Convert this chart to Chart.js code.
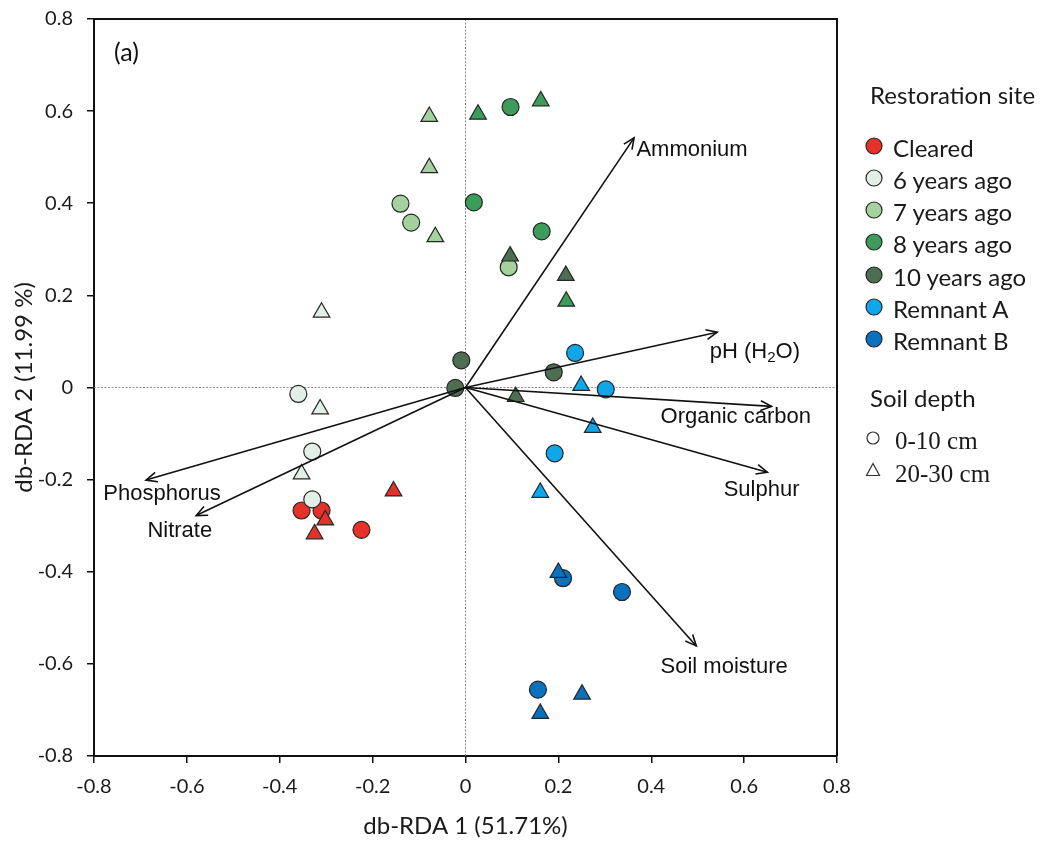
<!DOCTYPE html>
<html>
<head>
<meta charset="utf-8">
<script src="https://cdn.jsdelivr.net/npm/chart.js@4.4.1/dist/chart.umd.min.js"></script>
<style>
  html, body { margin: 0; padding: 0; background: #fff; }
  #wrap { position: relative; width: 1046px; height: 841px; overflow: hidden; }
  #chart { position: absolute; left: 0; top: 0; }
  .lg { position: absolute; white-space: nowrap; color: #1a1a1a; transform: translateY(-50%); line-height: 1; }
  .sans { font-family: Lato, "Open Sans", sans-serif; font-size: 24px; }
  .serif { font-family: "Liberation Serif", "DejaVu Serif", serif; font-size: 25px; }
  .mk { position: absolute; transform: translate(-50%, -50%); }
</style>
</head>
<body>
<div id="wrap">
  <canvas id="chart" width="1046" height="841"></canvas>
  <div id="legend"></div>
</div>
<script>
// ---------------- data ----------------
const sites = ['Cleared', '6 years ago', '7 years ago', '8 years ago', '10 years ago', 'Remnant A', 'Remnant B'];
const depths = ['0-10 cm', '20-30 cm'];

// db-RDA scores [db-RDA 1, db-RDA 2]
const cleared_0_10  = [[-0.353, -0.267], [-0.310, -0.267], [-0.224, -0.309]];
const cleared_20_30 = [[-0.155, -0.225], [-0.302, -0.288], [-0.325, -0.318]];
const yr6_0_10      = [[-0.360, -0.014], [-0.330, -0.139], [-0.330, -0.243]];
const yr6_20_30     = [[-0.310,  0.163], [-0.313, -0.047], [-0.353, -0.188]];
const yr7_0_10      = [[-0.140,  0.399], [-0.117,  0.358], [ 0.093,  0.261]];
const yr7_20_30     = [[-0.078,  0.588], [-0.078,  0.477], [-0.065,  0.327]];
const yr8_0_10      = [[ 0.097,  0.609], [ 0.018,  0.402], [ 0.164,  0.339]];
const yr8_20_30     = [[ 0.027,  0.593], [ 0.162,  0.622], [ 0.217,  0.187]];
const yr10_0_10     = [[-0.009,  0.059], [-0.022, -0.001], [ 0.190,  0.033]];
const yr10_20_30    = [[ 0.096,  0.285], [ 0.216,  0.243], [ 0.108, -0.020]];
const remA_0_10     = [[ 0.236,  0.075], [ 0.302, -0.004], [ 0.192, -0.143]];
const remA_20_30    = [[ 0.249,  0.004], [ 0.274, -0.087], [ 0.161, -0.228]];
const remB_0_10     = [[ 0.210, -0.414], [ 0.337, -0.444], [ 0.156, -0.656]];
const remB_20_30    = [[ 0.200, -0.402], [ 0.251, -0.666], [ 0.161, -0.708]];

// environmental vectors
const envNames = ['Ammonium', 'pH (H2O)', 'Organic carbon', 'Sulphur', 'Soil moisture', 'Phosphorus', 'Nitrate'];
const envX = [0.363, 0.542, 0.659, 0.650, 0.497, -0.688, -0.580];
const envY = [0.542, 0.120, -0.041, -0.184, -0.561, -0.201, -0.278];

// ticks
const xTickValues = [-0.8, -0.6, -0.4, -0.2, 0, 0.2, 0.4, 0.6, 0.8];
const xTickLabels = ['-0.8', '-0.6', '-0.4', '-0.2', '0', '0.2', '0.4', '0.6', '0.8'];
const yTickValues = [-0.8, -0.6, -0.4, -0.2, 0, 0.2, 0.4, 0.6, 0.8];
const yTickLabels = ['-0.8', '-0.6', '-0.4', '-0.2', '0', '0.2', '0.4', '0.6', '0.8'];

const xTitle = 'db-RDA 1 (51.71%)';
const yTitle = 'db-RDA 2 (11.99 %)';
const panelLabel = '(a)';

// ---------------- styling (kept separate from data) ----------------
const siteColors = ['#e4322a', '#e2efe7', '#a4d29f', '#3d9c5a', '#4e6e51', '#0fa7ea', '#0a71bf'];
const envLabelX = [0.368, 0.526, 0.420, 0.556, 0.420, -0.780, -0.685];   // label left edge
const envLabelY = [0.515, 0.078, -0.064, -0.222, -0.606, -0.230, -0.311]; // label middle

const siteData = [
  [cleared_0_10, cleared_20_30],
  [yr6_0_10, yr6_20_30],
  [yr7_0_10, yr7_20_30],
  [yr8_0_10, yr8_20_30],
  [yr10_0_10, yr10_20_30],
  [remA_0_10, remA_20_30],
  [remB_0_10, remB_20_30]
];

const datasets = [];
let drawSeq = 0;
siteData.forEach((pair, s) => {
  pair.forEach((pts, d) => {
    datasets.push({
      type: 'scatter',
      label: sites[s] + ' ' + depths[d],
      data: pts.map(p => ({ x: p[0], y: p[1] })),
      pointStyle: d === 0 ? 'circle' : 'triangle',
      pointRadius: d === 0 ? 8.5 : 9.6,
      pointHoverRadius: d === 0 ? 8.5 : 9.6,
      backgroundColor: siteColors[s],
      borderColor: '#262626',
      pointBorderWidth: 1.2,
      borderWidth: 1.2,
      order: 100 - drawSeq++
    });
  });
});
envNames.forEach((n, i) => {
  datasets.push({
    type: 'line',
    label: n,
    data: [{ x: 0, y: 0 }, { x: envX[i], y: envY[i] }],
    borderColor: '#111',
    borderWidth: 1.6,
    pointRadius: 0,
    fill: false,
    order: 0
  });
});

const decor = {
  id: 'decor',
  beforeDatasetsDraw(chart) {
    const { ctx, chartArea: a, scales: { x, y } } = chart;
    const x0 = x.getPixelForValue(0), y0 = y.getPixelForValue(0);
    ctx.save();
    ctx.strokeStyle = '#8c8c8c';
    ctx.lineWidth = 1;
    ctx.setLineDash([2, 1.5]);
    ctx.beginPath();
    ctx.moveTo(x0, a.top); ctx.lineTo(x0, a.bottom);
    ctx.moveTo(a.left, y0); ctx.lineTo(a.right, y0);
    ctx.stroke();
    ctx.restore();
  },
  afterDatasetsDraw(chart) {
    const { ctx, chartArea: a, scales: { x, y } } = chart;
    const x0 = x.getPixelForValue(0), y0 = y.getPixelForValue(0);
    ctx.save();
    // arrow heads
    ctx.strokeStyle = '#111';
    ctx.lineWidth = 1.6;
    envNames.forEach((n, i) => {
      const tx = x.getPixelForValue(envX[i]), ty = y.getPixelForValue(envY[i]);
      const ang = Math.atan2(ty - y0, tx - x0);
      const L = 12, spread = 0.42;
      ctx.beginPath();
      ctx.moveTo(tx - L * Math.cos(ang - spread), ty - L * Math.sin(ang - spread));
      ctx.lineTo(tx, ty);
      ctx.lineTo(tx - L * Math.cos(ang + spread), ty - L * Math.sin(ang + spread));
      ctx.stroke();
    });
    // labels
    ctx.fillStyle = '#111';
    ctx.textBaseline = 'middle';
    ctx.textAlign = 'left';
    const f = '22px "Liberation Sans", Arial, sans-serif';
    const fs = '15px "Liberation Sans", Arial, sans-serif';
    envNames.forEach((n, i) => {
      const lx = x.getPixelForValue(envLabelX[i]), ly = y.getPixelForValue(envLabelY[i]);
      if (n === 'pH (H2O)') {
        ctx.font = f;
        let cx = lx;
        ctx.fillText('pH (H', cx, ly); cx += ctx.measureText('pH (H').width;
        ctx.font = fs;
        ctx.fillText('2', cx, ly + 6); cx += ctx.measureText('2').width;
        ctx.font = f;
        ctx.fillText('O)', cx, ly);
      } else {
        ctx.font = f;
        ctx.fillText(n, lx, ly);
      }
    });
    // panel label
    ctx.font = '25px Lato, "Open Sans", sans-serif';
    ctx.fillStyle = '#111';
    ctx.fillText(panelLabel, a.left + 20, a.top + 34);
    // frame top & right
    ctx.strokeStyle = '#111';
    ctx.lineWidth = 2;
    ctx.setLineDash([]);
    ctx.beginPath();
    ctx.moveTo(a.left, a.top); ctx.lineTo(a.right, a.top); ctx.lineTo(a.right, a.bottom);
    ctx.stroke();
    ctx.restore();
  }
};

const tickFont = { family: 'Lato, "Open Sans", sans-serif', size: 20 };
const titleFont = { family: 'Lato, "Open Sans", sans-serif', size: 24 };

new Chart(document.getElementById('chart'), {
  type: 'scatter',
  data: { datasets },
  options: {
    responsive: false,
    animation: false,
    devicePixelRatio: 1,
    layout: { padding: { top: 19, right: 209, left: 0, bottom: 0 } },
    plugins: { legend: { display: false }, tooltip: { enabled: false } },
    scales: {
      x: {
        type: 'linear', min: -0.8, max: 0.8,
        afterBuildTicks: s => { s.ticks = xTickValues.map(v => ({ value: v })); },
        afterFit: s => { s.height = 85; s.paddingLeft = 0; s.paddingRight = 0; },
        ticks: { font: tickFont, color: '#1a1a1a', padding: 12, maxRotation: 0, callback: (v, i) => xTickLabels[i] },
        grid: { drawOnChartArea: false, drawTicks: true, tickLength: 7, color: '#111', lineWidth: 1.5 },
        border: { display: true, color: '#111', width: 2 },
        title: { display: true, text: xTitle, font: titleFont, color: '#1a1a1a', padding: { top: 4, bottom: 0 } }
      },
      y: {
        type: 'linear', min: -0.8, max: 0.8,
        afterBuildTicks: s => { s.ticks = yTickValues.map(v => ({ value: v })); },
        afterFit: s => { s.width = 94; s.paddingTop = 0; s.paddingBottom = 0; },
        ticks: { font: tickFont, color: '#1a1a1a', padding: 14, callback: (v, i) => yTickLabels[i] },
        grid: { drawOnChartArea: false, drawTicks: true, tickLength: 7, color: '#111', lineWidth: 1.5 },
        border: { display: true, color: '#111', width: 2 },
        title: { display: true, text: yTitle, font: titleFont, color: '#1a1a1a', padding: { top: 10, bottom: 0 } }
      }
    }
  },
  plugins: [decor]
});

// ---------------- legend (HTML text) ----------------
const lg = document.getElementById('legend');
function addText(txt, left, cy, cls) {
  const d = document.createElement('div');
  d.className = 'lg ' + cls;
  d.style.left = left + 'px';
  d.style.top = cy + 'px';
  d.textContent = txt;
  lg.appendChild(d);
}
function addMarker(svg, cx, cy) {
  const d = document.createElement('div');
  d.className = 'mk';
  d.style.left = cx + 'px';
  d.style.top = cy + 'px';
  d.innerHTML = svg;
  lg.appendChild(d);
}
addText('Restoration site', 870, 95, 'sans');
const rowY = [148, 180, 212, 244, 277, 309, 341];
sites.forEach((s, i) => {
  addMarker(`<svg width="20" height="20"><circle cx="10" cy="10" r="8" fill="${siteColors[i]}" stroke="#262626" stroke-width="1.2"/></svg>`, 874, rowY[i]);
  addText(s, 893, rowY[i], 'sans');
});
addText('Soil depth', 870, 398, 'sans');
addMarker(`<svg width="18" height="18"><circle cx="9" cy="9" r="6" fill="none" stroke="#333" stroke-width="1.2"/></svg>`, 873, 440);
addText(depths[0], 895, 440, 'serif');
addMarker(`<svg width="18" height="18"><polygon points="9,2.5 15.5,14.5 2.5,14.5" fill="none" stroke="#333" stroke-width="1.2"/></svg>`, 873, 472);
addText(depths[1], 895, 473, 'serif');
</script>
</body>
</html>
